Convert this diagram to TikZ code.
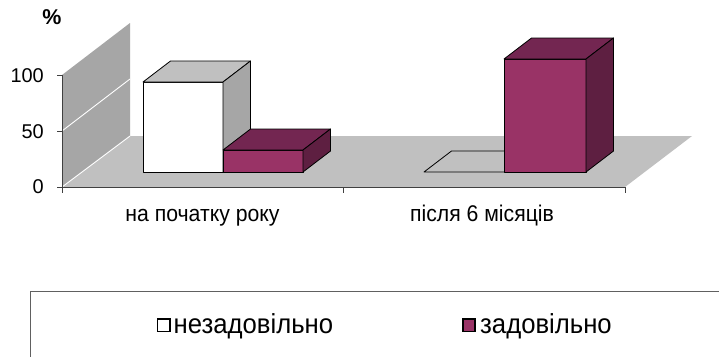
\documentclass[tikz,border=0pt]{standalone}
\usepackage{fontspec}
\usepackage{graphicx}
\setmainfont{Liberation Sans}
\definecolor{wallc}{HTML}{A6A6A6}
\definecolor{floorc}{HTML}{C0C0C0}
\definecolor{mfront}{HTML}{993366}
\definecolor{mtop}{HTML}{732651}
\definecolor{mside}{HTML}{5E1F41}
\definecolor{wtop}{HTML}{C0C0C0}
\definecolor{wside}{HTML}{A6A6A6}
\definecolor{legline}{HTML}{606060}
\definecolor{axisc}{HTML}{404040}
\newcommand{\tallcat}[1]{\scalebox{1}[1.07]{#1}}
\newcommand{\tallleg}[1]{\scalebox{1}[1.07]{#1}}
\begin{document}
\begin{tikzpicture}[x=1bp,y=-1bp,
  face/.style={draw=black, line width=0.8bp, line join=round},
  axisline/.style={draw=axisc, line width=0.9bp},
  grid/.style={draw=white, line width=0.9bp},
  ticklabel/.style={font=\fontsize{20}{20}\selectfont, anchor=east, inner sep=0pt},
  catlabel/.style={font=\fontsize{21.3}{21.3}\selectfont, anchor=base, inner sep=0pt},
  legtext/.style={font=\fontsize{25.8}{25.8}\selectfont, anchor=base west, inner sep=0pt},
  legkey/.style={draw=black, line width=1.8bp, minimum size=12.3bp, inner sep=0pt}]
\clip (0,0) rectangle (719,356);
\fill[white] (0,0) rectangle (719,356);
% walls and floor
\fill[wallc] (62,187) -- (62,75) -- (130,23) -- (130,136) -- cycle;
\fill[floorc] (62,187) -- (130,136) -- (692,136) -- (625,187) -- cycle;
\draw[grid] (62,131) -- (130,79);
\draw[grid] (62,187) -- (130,136);
% axes
\draw[axisline] (62,75) -- (62,187) -- (625,187);
\foreach \yy in {75,131,187} \draw[axisline] (57,\yy) -- (62,\yy);
\foreach \xx in {62,343,625} \draw[axisline] (\xx,187) -- (\xx,193);
\node[ticklabel] (t100) at (44,76) {100};
\node[ticklabel] (t50) at (44,131.5) {50};
\node[ticklabel] (t0) at (44,186.5) {0};
\node[font=\bfseries\fontsize{21.5}{21.5}\selectfont, inner sep=0pt] (pct) at (52,17) {\%};
% bar 1: white
\fill[face, fill=white] (143,82) rectangle (223,172);
\fill[face, fill=wtop] (143,82) -- (170.5,61) -- (250.5,61) -- (223,82) -- cycle;
\fill[face, fill=wside] (223,82) -- (250.5,61) -- (250.5,151) -- (223,172) -- cycle;
% bar 1: maroon
\fill[face, fill=mfront] (223,150) rectangle (303,172);
\fill[face, fill=mtop] (223,150) -- (250.5,129) -- (330.5,129) -- (303,150) -- cycle;
\fill[face, fill=mside] (303,150) -- (330.5,129) -- (330.5,151) -- (303,172) -- cycle;
% bar 2: white (zero)
\fill[face, fill=wtop] (424,172) -- (504,172) -- (531.5,151) -- (451.5,151) -- cycle;
% bar 2: maroon
\fill[face, fill=mfront] (504,59) rectangle (586,172);
\fill[face, fill=mtop] (504,59) -- (531.5,38) -- (613.5,38) -- (586,59) -- cycle;
\fill[face, fill=mside] (586,59) -- (613.5,38) -- (613.5,151) -- (586,172) -- cycle;
% category labels
\node[catlabel] (c1) at (202.5,221) {\tallcat{на початку року}};
\node[catlabel] (c2) at (482,221) {\tallcat{після 6 місяців}};
% legend
\draw[legline, line width=1bp] (730,291) -- (30,291) -- (30,370);
\node[legkey, fill=white] (k1) at (163.7,325.3) {};
\node[legtext] (l1) at (173.5,333.3) {\tallleg{незадовільно}};
\node[legkey, fill=mfront] (k2) at (469.2,325.3) {};
\node[legtext] (l2) at (480,333.3) {\tallleg{задовільно}};
\end{tikzpicture}
\end{document}
